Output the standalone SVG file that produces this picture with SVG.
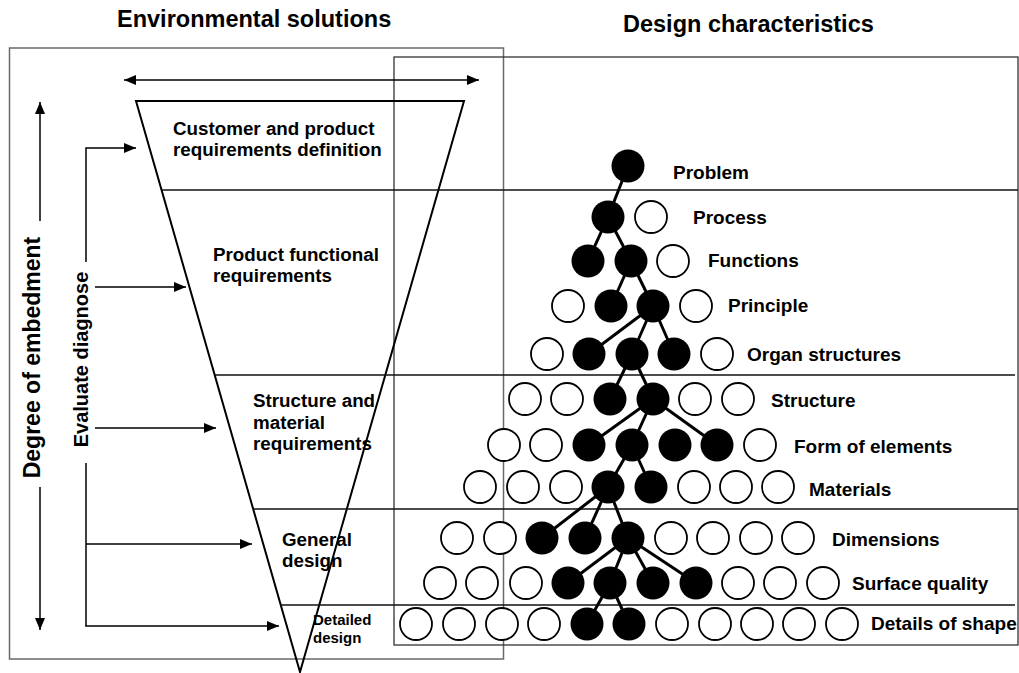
<svg xmlns="http://www.w3.org/2000/svg" width="1019" height="673" viewBox="0 0 1019 673">
<style>
text{font-family:"Liberation Sans",Arial,sans-serif;font-weight:bold;fill:#000}
.title{font-size:23.5px}
.stage{font-size:18.8px}
.small{font-size:15px}
.lab{font-size:19px}
.frame{fill:none;stroke:#6a6a6a;stroke-width:1.5}
.frame2{fill:none;stroke:#333;stroke-width:1.3}
.div{stroke:#111;stroke-width:1.3;fill:none}
.arr{stroke:#000;stroke-width:1.5;fill:none}
.edge{stroke:#000;stroke-width:3;fill:none}
.f{fill:#000}
.o{fill:#fff;stroke:#000;stroke-width:1.8}
</style>
<defs>
<marker id="ah" viewBox="0 0 12 10" refX="12" refY="5" markerWidth="12" markerHeight="10" markerUnits="userSpaceOnUse" orient="auto-start-reverse">
<path d="M0,0 L12,5 L0,10 z" fill="#000"/>
</marker>
</defs>
<rect width="1019" height="673" fill="#fff"/>
<g id="titles">
<text class="title" x="117" y="27">Environmental solutions</text>
<text class="title" x="623" y="32">Design characteristics</text>
</g>
<g id="frames">
<rect class="frame" x="9.5" y="48" width="494" height="611"/>
<rect class="frame2" x="394" y="57" width="624" height="588"/>
</g>
<g id="funnel">
<polygon points="136,101 464,101 300,672" fill="none" stroke="#000" stroke-width="2"/>
<line class="div" x1="162" y1="190" x2="1018" y2="190"/>
<line class="div" x1="215" y1="375" x2="1015" y2="375"/>
<line class="div" x1="253" y1="509" x2="1018" y2="509" stroke="#555"/>
<line class="div" x1="280" y1="605" x2="1015" y2="605"/>
</g>
<g id="stage-customer">
<text class="stage" x="173" y="135">Customer and product</text>
<text class="stage" x="173" y="156">requirements definition</text>
</g>
<g id="stage-functional">
<text class="stage" x="213" y="261">Product functional</text>
<text class="stage" x="213" y="282">requirements</text>
</g>
<g id="stage-structure">
<text class="stage" x="253" y="407">Structure and</text>
<text class="stage" x="253" y="429">material</text>
<text class="stage" x="253" y="450">requirements</text>
</g>
<g id="stage-general">
<text class="stage" x="282" y="546">General</text>
<text class="stage" x="282" y="567">design</text>
</g>
<g id="stage-detailed">
<text class="small" x="313" y="625">Detailed</text>
<text class="small" x="313" y="643">design</text>
</g>
<g id="axis-labels">
<text transform="translate(40,357.5) rotate(-90)" text-anchor="middle" style="font-size:23px">Degree of embedment</text>
<text transform="translate(88,359.5) rotate(-90)" text-anchor="middle" style="font-size:20px">Evaluate diagnose</text>
</g>
<g id="connectors">
<line class="arr" x1="124" y1="80" x2="479" y2="80" marker-start="url(#ah)" marker-end="url(#ah)"/>
<line class="arr" x1="40" y1="221" x2="40" y2="102" marker-end="url(#ah)"/>
<line class="arr" x1="40" y1="487" x2="40" y2="630" marker-end="url(#ah)"/>
<polyline class="arr" points="86,262 86,148 136,148" marker-end="url(#ah)"/>
<line class="arr" x1="95" y1="287" x2="186" y2="287" marker-end="url(#ah)"/>
<line class="arr" x1="95" y1="428" x2="216" y2="428" marker-end="url(#ah)"/>
<line class="arr" x1="86" y1="463" x2="86" y2="626"/>
<line class="arr" x1="86" y1="544" x2="252" y2="544" marker-end="url(#ah)"/>
<polyline class="arr" points="86,625 86,626 279,626" marker-end="url(#ah)"/>
<g id="tree-edges">
<line class="edge" x1="628" y1="166" x2="608" y2="217"/>
<line class="edge" x1="608" y1="217" x2="588" y2="261"/>
<line class="edge" x1="608" y1="217" x2="631" y2="261"/>
<line class="edge" x1="631" y1="261" x2="611" y2="306"/>
<line class="edge" x1="631" y1="261" x2="653" y2="306"/>
<line class="edge" x1="653" y1="306" x2="589" y2="354"/>
<line class="edge" x1="653" y1="306" x2="632" y2="354"/>
<line class="edge" x1="653" y1="306" x2="674" y2="354"/>
<line class="edge" x1="632" y1="354" x2="610" y2="399"/>
<line class="edge" x1="632" y1="354" x2="653" y2="399"/>
<line class="edge" x1="653" y1="399" x2="589" y2="445"/>
<line class="edge" x1="653" y1="399" x2="632" y2="445"/>
<line class="edge" x1="653" y1="399" x2="717" y2="445"/>
<line class="edge" x1="632" y1="445" x2="608" y2="487"/>
<line class="edge" x1="632" y1="445" x2="651" y2="487"/>
<line class="edge" x1="608" y1="487" x2="542" y2="538"/>
<line class="edge" x1="608" y1="487" x2="585" y2="538"/>
<line class="edge" x1="608" y1="487" x2="628" y2="538"/>
<line class="edge" x1="628" y1="538" x2="568" y2="583"/>
<line class="edge" x1="628" y1="538" x2="610" y2="583"/>
<line class="edge" x1="628" y1="538" x2="653" y2="583"/>
<line class="edge" x1="628" y1="538" x2="696" y2="583"/>
<line class="edge" x1="610" y1="583" x2="587" y2="624"/>
<line class="edge" x1="610" y1="583" x2="629" y2="624"/>
</g>
</g>
<g id="row-problem">
<circle class="f" cx="628" cy="166" r="16.5"/>
<text class="lab" x="673" y="179">Problem</text>
</g>
<g id="row-process">
<circle class="f" cx="608" cy="217" r="16.5"/>
<circle class="o" cx="651" cy="217" r="16"/>
<text class="lab" x="693" y="224">Process</text>
</g>
<g id="row-functions">
<circle class="f" cx="588" cy="261" r="16.5"/>
<circle class="f" cx="631" cy="261" r="16.5"/>
<circle class="o" cx="673" cy="261" r="16"/>
<text class="lab" x="708" y="267">Functions</text>
</g>
<g id="row-principle">
<circle class="o" cx="568" cy="306" r="16"/>
<circle class="f" cx="611" cy="306" r="16.5"/>
<circle class="f" cx="653" cy="306" r="16.5"/>
<circle class="o" cx="696" cy="306" r="16"/>
<text class="lab" x="728" y="312">Principle</text>
</g>
<g id="row-organ">
<circle class="o" cx="547" cy="354" r="16"/>
<circle class="f" cx="589" cy="354" r="16.5"/>
<circle class="f" cx="632" cy="354" r="16.5"/>
<circle class="f" cx="674" cy="354" r="16.5"/>
<circle class="o" cx="717" cy="354" r="16"/>
<text class="lab" x="747" y="361">Organ structures</text>
</g>
<g id="row-structure">
<circle class="o" cx="525" cy="399" r="16"/>
<circle class="o" cx="567" cy="399" r="16"/>
<circle class="f" cx="610" cy="399" r="16.5"/>
<circle class="f" cx="653" cy="399" r="16.5"/>
<circle class="o" cx="695" cy="399" r="16"/>
<circle class="o" cx="738" cy="399" r="16"/>
<text class="lab" x="771" y="407">Structure</text>
</g>
<g id="row-form">
<circle class="o" cx="504" cy="445" r="16"/>
<circle class="o" cx="546" cy="445" r="16"/>
<circle class="f" cx="589" cy="445" r="16.5"/>
<circle class="f" cx="632" cy="445" r="16.5"/>
<circle class="f" cx="675" cy="445" r="16.5"/>
<circle class="f" cx="717" cy="445" r="16.5"/>
<circle class="o" cx="760" cy="445" r="16"/>
<text class="lab" x="794" y="453">Form of elements</text>
</g>
<g id="row-materials">
<circle class="o" cx="480" cy="487" r="16"/>
<circle class="o" cx="523" cy="487" r="16"/>
<circle class="o" cx="566" cy="487" r="16"/>
<circle class="f" cx="608" cy="487" r="16.5"/>
<circle class="f" cx="651" cy="487" r="16.5"/>
<circle class="o" cx="694" cy="487" r="16"/>
<circle class="o" cx="736" cy="487" r="16"/>
<circle class="o" cx="778" cy="487" r="16"/>
<text class="lab" x="809" y="496">Materials</text>
</g>
<g id="row-dimensions">
<circle class="o" cx="457" cy="538" r="16"/>
<circle class="o" cx="500" cy="538" r="16"/>
<circle class="f" cx="542" cy="538" r="16.5"/>
<circle class="f" cx="585" cy="538" r="16.5"/>
<circle class="f" cx="628" cy="538" r="16.5"/>
<circle class="o" cx="671" cy="538" r="16"/>
<circle class="o" cx="713" cy="538" r="16"/>
<circle class="o" cx="756" cy="538" r="16"/>
<circle class="o" cx="798" cy="538" r="16"/>
<text class="lab" x="832" y="546">Dimensions</text>
</g>
<g id="row-surface">
<circle class="o" cx="440" cy="583" r="16"/>
<circle class="o" cx="482" cy="583" r="16"/>
<circle class="o" cx="526" cy="583" r="16"/>
<circle class="f" cx="568" cy="583" r="16.5"/>
<circle class="f" cx="610" cy="583" r="16.5"/>
<circle class="f" cx="653" cy="583" r="16.5"/>
<circle class="f" cx="696" cy="583" r="16.5"/>
<circle class="o" cx="738" cy="583" r="16"/>
<circle class="o" cx="780" cy="583" r="16"/>
<circle class="o" cx="823" cy="583" r="16"/>
<text class="lab" x="852" y="590">Surface quality</text>
</g>
<g id="row-details">
<circle class="o" cx="416" cy="624" r="16"/>
<circle class="o" cx="459" cy="624" r="16"/>
<circle class="o" cx="502" cy="624" r="16"/>
<circle class="o" cx="544" cy="624" r="16"/>
<circle class="f" cx="587" cy="624" r="16.5"/>
<circle class="f" cx="629" cy="624" r="16.5"/>
<circle class="o" cx="672" cy="624" r="16"/>
<circle class="o" cx="715" cy="624" r="16"/>
<circle class="o" cx="757" cy="624" r="16"/>
<circle class="o" cx="799" cy="624" r="16"/>
<circle class="o" cx="842" cy="624" r="16"/>
<text class="lab" x="871" y="630">Details of shape</text>
</g>
</svg>
